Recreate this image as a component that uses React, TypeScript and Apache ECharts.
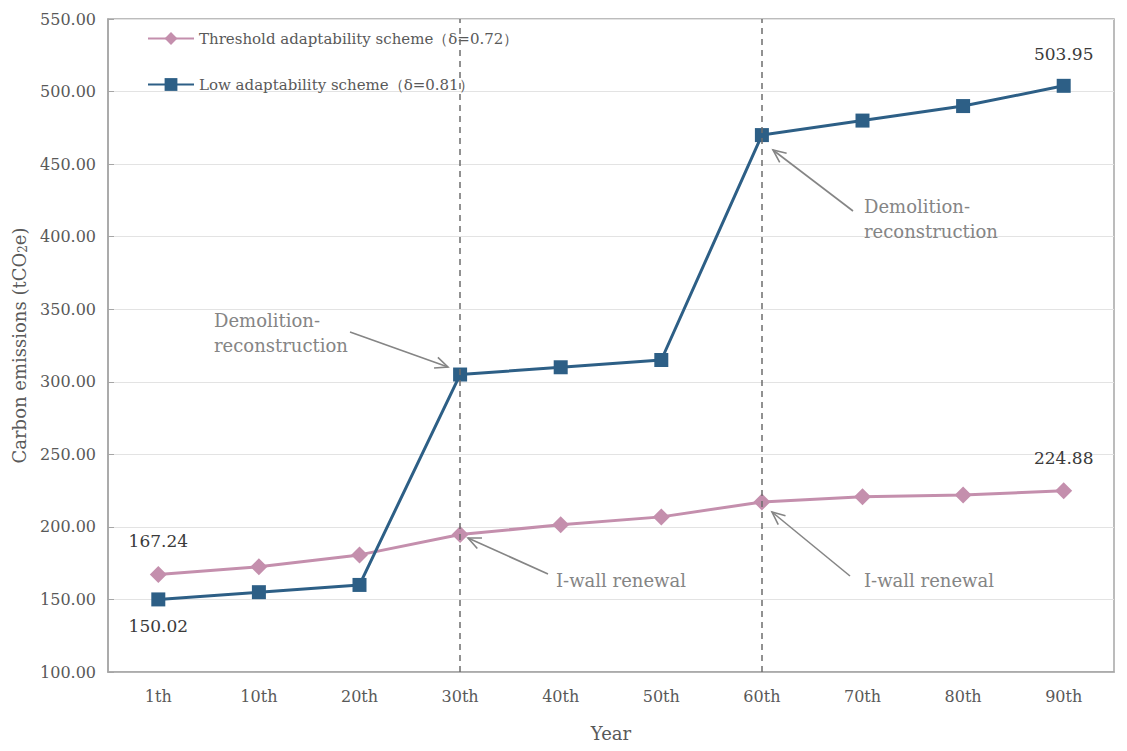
import React, { useEffect, useRef } from "react";
import * as echarts from "echarts";

const categories = ["1th", "10th", "20th", "30th", "40th", "50th", "60th", "70th", "80th", "90th"];
const thresholdValues = [167.24, 172.5, 180.7, 194.8, 201.4, 206.9, 217.2, 220.7, 222.0, 224.88];
const lowValues = [150.02, 155.0, 160.0, 305.0, 310.0, 315.0, 470.0, 480.0, 490.0, 503.95];
const eventYears = ["30th", "60th"];
const thresholdName = "Threshold adaptability scheme（δ=0.72）";
const lowName = "Low adaptability scheme（δ=0.81）";

const FONT = "DejaVu Serif";
const PINK = "#C48FAD";
const BLUE = "#2D5F86";
const GREY = "#858585";

function arrow(x1: number, y1: number, x2: number, y2: number) {
  const ang = Math.atan2(y2 - y1, x2 - x1);
  const len = 14;
  const spread = 0.42;
  const a1 = ang + Math.PI - spread;
  const a2 = ang + Math.PI + spread;
  return [
    {
      type: "line",
      shape: { x1, y1, x2, y2 },
      style: { stroke: GREY, lineWidth: 1.6 },
      z: 100,
    },
    {
      type: "polyline",
      shape: {
        points: [
          [x2 + len * Math.cos(a1), y2 + len * Math.sin(a1)],
          [x2, y2],
          [x2 + len * Math.cos(a2), y2 + len * Math.sin(a2)],
        ],
      },
      style: { stroke: GREY, lineWidth: 1.6, fill: "none" },
      z: 100,
    },
  ];
}

function note(x: number, y: number, text: string) {
  return {
    type: "text",
    x,
    y,
    z: 100,
    style: {
      text,
      fill: GREY,
      font: `18px "${FONT}"`,
      lineHeight: 25,
      textVerticalAlign: "top",
    },
  };
}

export default function App() {
  const ref = useRef<HTMLDivElement>(null);
  useEffect(() => {
    if (!ref.current) return;
    const chart = echarts.init(ref.current, undefined, { renderer: "svg" });
    const lastIdx = categories.length - 1;
    const mkLabel = (pos: string, dist: number) => ({
      show: true,
      position: pos,
      distance: dist,
      formatter: (p: any) => Number(p.value).toFixed(2),
      fontFamily: FONT,
      fontSize: 17,
      color: "#3a3a3a",
    });
    const option: any = {
      animation: false,
      backgroundColor: "#ffffff",
      textStyle: { fontFamily: FONT },
      grid: {
        left: 108,
        right: 13,
        top: 19,
        bottom: 79,
        show: true,
        borderColor: "#a6a6a6",
        borderWidth: 1.5,
        containLabel: false,
        outerBoundsMode: "none",
      },
      legend: {
        orient: "vertical",
        left: 147,
        top: 31,
        padding: 0,
        itemWidth: 46,
        itemHeight: 16,
        itemGap: 31,
        textStyle: { fontFamily: FONT, fontSize: 15, color: "#595959" },
        data: [thresholdName, lowName],
      },
      xAxis: {
        type: "category",
        data: categories,
        boundaryGap: true,
        name: "Year",
        nameLocation: "middle",
        nameGap: 52,
        nameTextStyle: { fontFamily: FONT, fontSize: 18, color: "#595959" },
        axisLine: { show: true, lineStyle: { color: "#a6a6a6", width: 1.5 } },
        axisTick: { show: false },
        axisLabel: { fontFamily: FONT, fontSize: 16, color: "#595959", margin: 16 },
        splitLine: { show: false },
      },
      yAxis: {
        type: "value",
        min: 100,
        max: 550,
        interval: 50,
        name: "Carbon emissions (tCO{sub|2}e)",
        nameLocation: "middle",
        nameGap: 74,
        nameTextStyle: {
          fontFamily: FONT,
          fontSize: 18,
          color: "#595959",
          rich: { sub: { fontFamily: FONT, fontSize: 12, color: "#595959", verticalAlign: "bottom", padding: [8, 0, 0, 0] } },
        },
        axisLine: { show: true, lineStyle: { color: "#a6a6a6", width: 1.5 } },
        axisTick: { show: true, inside: true, length: 6, lineStyle: { color: "#a6a6a6" } },
        axisLabel: {
          fontFamily: FONT,
          fontSize: 16,
          color: "#595959",
          margin: 12,
          formatter: (v: number) => v.toFixed(2),
        },
        splitLine: { show: true, lineStyle: { color: "#e3e3e3", width: 1.2 } },
      },
      series: [
        {
          name: thresholdName,
          type: "line",
          data: thresholdValues.map((v, i) =>
            i === 0 || i === lastIdx ? { value: v, label: mkLabel("top", 16) } : v
          ),
          symbol: "diamond",
          symbolSize: 17,
          lineStyle: { color: PINK, width: 3 },
          itemStyle: { color: PINK },
          z: 3,
          markLine: {
            silent: true,
            symbol: ["none", "none"],
            label: { show: false },
            lineStyle: { color: "#6e6e6e", type: [6, 5], width: 1.5 },
            data: eventYears.map((y) => ({ xAxis: y })),
          },
        },
        {
          name: lowName,
          type: "line",
          data: lowValues.map((v, i) =>
            i === 0 ? { value: v, label: mkLabel("bottom", 11) } : i === lastIdx ? { value: v, label: mkLabel("top", 16) } : v
          ),
          symbol: "rect",
          symbolSize: 14,
          lineStyle: { color: BLUE, width: 3 },
          itemStyle: { color: BLUE },
          z: 4,
        },
      ],
      graphic: [
        note(214, 308, "Demolition-\nreconstruction"),
        ...arrow(350, 332, 448, 367),
        note(864, 194, "Demolition-\nreconstruction"),
        ...arrow(853, 211, 773, 150),
        note(556, 568, "I-wall renewal"),
        ...arrow(548, 574, 468, 538),
        note(864, 568, "I-wall renewal"),
        ...arrow(850, 576, 772, 512),
      ],
    };
    chart.setOption(option);
    return () => chart.dispose();
  }, []);
  return (
    <div
      ref={ref}
      style={{ position: "fixed", left: 0, top: 0, width: 1127, height: 751 }}
    />
  );
}
